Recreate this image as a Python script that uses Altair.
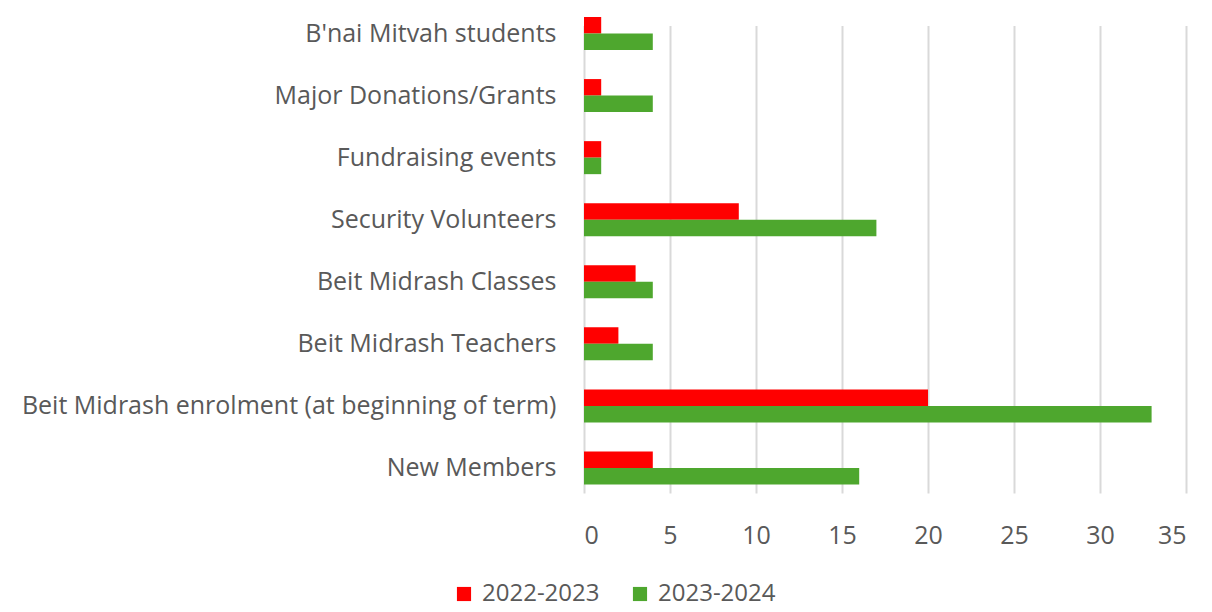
import altair as alt
import pandas as pd

categories = [
    "B'nai Mitvah students",
    "Major Donations/Grants",
    "Fundraising events",
    "Security Volunteers",
    "Beit Midrash Classes",
    "Beit Midrash Teachers",
    "Beit Midrash enrolment (at beginning of term)",
    "New Members",
]
series = ["2022-2023", "2023-2024"]
values_2022 = [1, 1, 1, 9, 3, 2, 20, 4]
values_2023 = [4, 4, 1, 17, 4, 4, 33, 16]
colors = ["#FF0000", "#4EA72E"]
x_ticks = [0, 5, 10, 15, 20, 25, 30, 35]

rows = []
for c, a, b in zip(categories, values_2022, values_2023):
    rows.append({"category": c, "series": series[0], "value": a})
    rows.append({"category": c, "series": series[1], "value": b})
df = pd.DataFrame(rows)

FONT = "Open Sans"
GREY = "#595959"
FS = 25

chart = alt.Chart(df).mark_bar().encode(
    y=alt.Y(
        "category:N",
        sort=categories,
        scale=alt.Scale(range=[9, 476.5], paddingInner=0.468, paddingOuter=0),
        axis=alt.Axis(
            title=None,
            domain=False,
            ticks=False,
            labelPadding=28,
            labelFontSize=FS,
            labelColor=GREY,
            labelFont=FONT,
            labelLimit=700,
        ),
    ),
    yOffset=alt.YOffset("series:N", sort=series, scale=alt.Scale(paddingInner=0, paddingOuter=0)),
    x=alt.X(
        "value:Q",
        scale=alt.Scale(domain=[0, 35], nice=False),
        axis=alt.Axis(
            title=None,
            values=x_ticks,
            domain=False,
            ticks=False,
            grid=True,
            gridColor="#D9D9D9",
            gridWidth=2,
            labelPadding=21,
            labelFontSize=FS,
            labelColor=GREY,
            labelFont=FONT,
        ),
    ),
    color=alt.Color(
        "series:N",
        sort=series,
        scale=alt.Scale(domain=series, range=colors),
        legend=alt.Legend(
            title=None,
            orient="none",
            direction="horizontal",
            legendX=-132,
            legendY=574,
            symbolType="square",
            symbolSize=200,
            symbolStrokeWidth=0,
            labelFontSize=24,
            labelColor=GREY,
            labelFont=FONT,
            columnPadding=28,
            labelOffset=6,
        ),
    ),
).properties(
    width=602,
    height=494,
    autosize=alt.AutoSizeParams(type="none"),
    padding={"left": 576, "top": 0, "right": 10, "bottom": 108},
).configure_view(stroke=None)

chart.save("out.html", embed_options={"renderer": "svg", "actions": False})
